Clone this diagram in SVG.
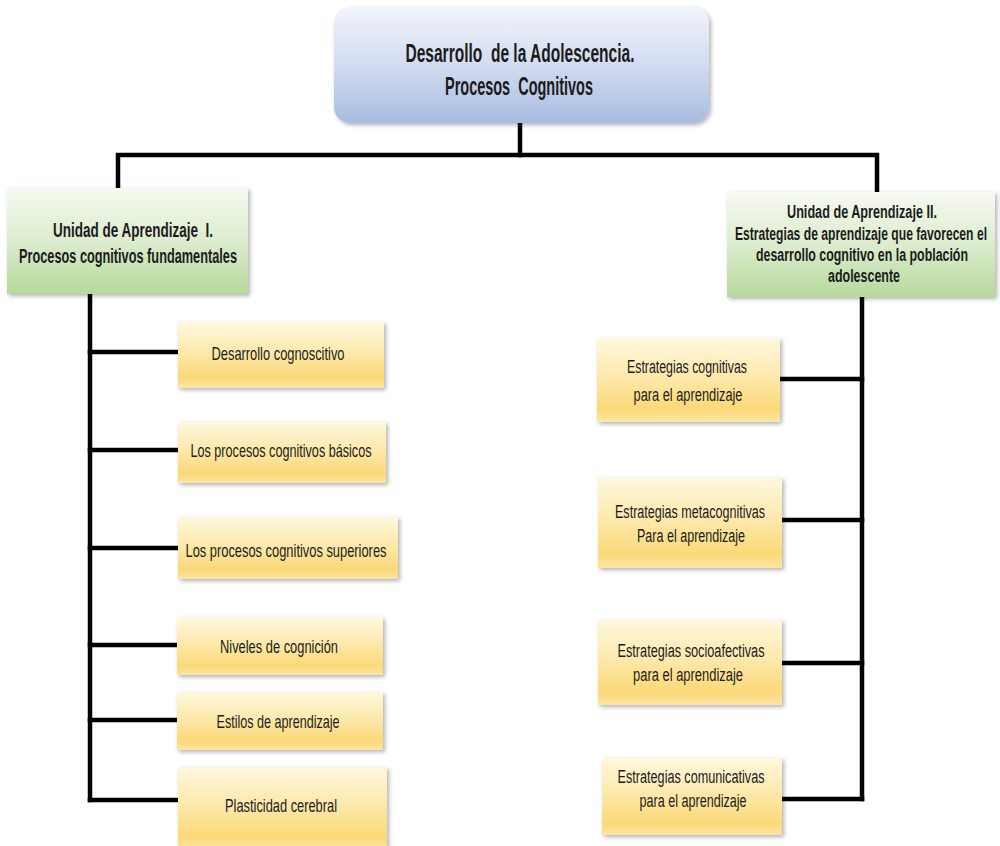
<svg xmlns="http://www.w3.org/2000/svg" width="1000" height="846" viewBox="0 0 1000 846">
  <defs>
    <linearGradient id="gBlue" x1="0" y1="0" x2="0" y2="1">
      <stop offset="0" stop-color="#f1f4fb"/>
      <stop offset="0.5" stop-color="#d2dcf0"/>
      <stop offset="1" stop-color="#a8bce2"/>
    </linearGradient>
    <linearGradient id="gGreen" x1="0" y1="0" x2="0" y2="1">
      <stop offset="0" stop-color="#f6faf1"/>
      <stop offset="0.5" stop-color="#dcecce"/>
      <stop offset="1" stop-color="#b7d99b"/>
    </linearGradient>
    <linearGradient id="gYellow" x1="0" y1="0" x2="0" y2="1">
      <stop offset="0" stop-color="#fff8df"/>
      <stop offset="0.45" stop-color="#fde9ad"/>
      <stop offset="0.85" stop-color="#fbd977"/>
      <stop offset="1" stop-color="#fde6a6"/>
    </linearGradient>
    <filter id="shadow" x="-10%" y="-10%" width="125%" height="130%">
      <feDropShadow dx="2" dy="2" stdDeviation="2" flood-color="#000" flood-opacity="0.3"/>
    </filter>
  </defs>
  <style>
    .blue { fill: url(#gBlue); filter: url(#shadow); }
    .green { fill: url(#gGreen); filter: url(#shadow); }
    .yellow { fill: url(#gYellow); filter: url(#shadow); }
    .t { font-family: "Liberation Sans Narrow", "Liberation Sans", Arial, sans-serif; fill: #1c1c1c; text-anchor: middle; }
    .b { font-weight: bold; }
    .conn { fill: none; stroke: #000; stroke-width: 4.5; stroke-linecap: square; stroke-linejoin: miter; }
  </style>

  <g id="connectors">
    <path class="conn" d="M520,122 V155"/>
    <path class="conn" d="M118,188 V155 H877 V192"/>
    <path class="conn" d="M90,296 V800"/>
    <path class="conn" d="M90,352 H178"/>
    <path class="conn" d="M90,450 H178"/>
    <path class="conn" d="M90,548 H178"/>
    <path class="conn" d="M90,645 H177"/>
    <path class="conn" d="M90,720 H177"/>
    <path class="conn" d="M90,800 H178"/>
    <path class="conn" d="M862,297 V799"/>
    <path class="conn" d="M780,379 H862"/>
    <path class="conn" d="M782,520 H862"/>
    <path class="conn" d="M782,663 H862"/>
    <path class="conn" d="M782,799 H862"/>
  </g>

  <g id="root">
    <rect class="blue" x="334" y="7" width="375" height="116" rx="16" ry="16"/>
    <text class="t b" x="520" y="62" font-size="25" textLength="229" lengthAdjust="spacingAndGlyphs" xml:space="preserve">Desarrollo  de la Adolescencia.</text>
    <text class="t b" x="519" y="95" font-size="25" textLength="148" lengthAdjust="spacingAndGlyphs" xml:space="preserve">Procesos  Cognitivos</text>
  </g>

  <g id="unit1">
    <rect class="green" x="7" y="188" width="241" height="106"/>
    <text class="t b" x="133" y="237" font-size="20" textLength="160" lengthAdjust="spacingAndGlyphs" xml:space="preserve">Unidad de Aprendizaje  I.</text>
    <text class="t b" x="128" y="263" font-size="20" textLength="218" lengthAdjust="spacingAndGlyphs">Procesos cognitivos fundamentales</text>
  </g>

  <g id="unit2">
    <rect class="green" x="727" y="192" width="268" height="105"/>
    <text class="t b" x="862" y="218" font-size="17.5" textLength="150" lengthAdjust="spacingAndGlyphs">Unidad de Aprendizaje II.</text>
    <text class="t b" x="861" y="240" font-size="17.5" textLength="252" lengthAdjust="spacingAndGlyphs">Estrategias de aprendizaje que favorecen el</text>
    <text class="t b" x="862" y="261" font-size="17.5" textLength="212" lengthAdjust="spacingAndGlyphs">desarrollo cognitivo en la población</text>
    <text class="t b" x="864" y="282" font-size="17.5" textLength="72" lengthAdjust="spacingAndGlyphs">adolescente</text>
  </g>

  <g id="l1">
    <rect class="yellow" x="178" y="322" width="206" height="66"/>
    <text class="t" x="278" y="360" font-size="19" textLength="133" lengthAdjust="spacingAndGlyphs">Desarrollo cognoscitivo</text>
  </g>
  <g id="l2">
    <rect class="yellow" x="178" y="422" width="208" height="61"/>
    <text class="t" x="281" y="457" font-size="19" textLength="181" lengthAdjust="spacingAndGlyphs">Los procesos cognitivos básicos</text>
  </g>
  <g id="l3">
    <rect class="yellow" x="178" y="517" width="220" height="62"/>
    <text class="t" x="286" y="557" font-size="19" textLength="201" lengthAdjust="spacingAndGlyphs">Los procesos cognitivos superiores</text>
  </g>
  <g id="l4">
    <rect class="yellow" x="177" y="617" width="206" height="58"/>
    <text class="t" x="279" y="653" font-size="19" textLength="118" lengthAdjust="spacingAndGlyphs">Niveles de cognición</text>
  </g>
  <g id="l5">
    <rect class="yellow" x="177" y="692" width="206" height="58"/>
    <text class="t" x="278" y="728" font-size="19" textLength="123" lengthAdjust="spacingAndGlyphs">Estilos de aprendizaje</text>
  </g>
  <g id="l6">
    <rect class="yellow" x="178" y="767" width="209" height="82"/>
    <text class="t" x="281" y="812" font-size="19" textLength="112" lengthAdjust="spacingAndGlyphs">Plasticidad cerebral</text>
  </g>

  <g id="r1">
    <rect class="yellow" x="597" y="338" width="183" height="84"/>
    <text class="t" x="687" y="373" font-size="18" textLength="120" lengthAdjust="spacingAndGlyphs">Estrategias cognitivas</text>
    <text class="t" x="688" y="401" font-size="18" textLength="109" lengthAdjust="spacingAndGlyphs">para el aprendizaje</text>
  </g>
  <g id="r2">
    <rect class="yellow" x="598" y="478" width="184" height="90"/>
    <text class="t" x="690" y="518" font-size="18" textLength="150" lengthAdjust="spacingAndGlyphs">Estrategias metacognitivas</text>
    <text class="t" x="691" y="542" font-size="18" textLength="108" lengthAdjust="spacingAndGlyphs">Para el aprendizaje</text>
  </g>
  <g id="r3">
    <rect class="yellow" x="598" y="620" width="184" height="85"/>
    <text class="t" x="691" y="657" font-size="18" textLength="147" lengthAdjust="spacingAndGlyphs">Estrategias socioafectivas</text>
    <text class="t" x="688" y="681" font-size="18" textLength="110" lengthAdjust="spacingAndGlyphs">para el aprendizaje</text>
  </g>
  <g id="r4">
    <rect class="yellow" x="602" y="758" width="180" height="77"/>
    <text class="t" x="691" y="783" font-size="18" textLength="147" lengthAdjust="spacingAndGlyphs">Estrategias comunicativas</text>
    <text class="t" x="693" y="807" font-size="18" textLength="107" lengthAdjust="spacingAndGlyphs">para el aprendizaje</text>
  </g>
</svg>
